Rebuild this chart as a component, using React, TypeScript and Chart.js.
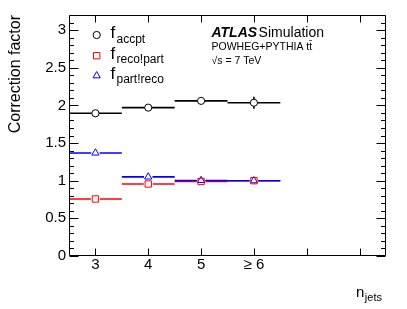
import React, { useEffect, useRef } from 'react';
import { Chart, registerables } from 'chart.js';

Chart.register(...registerables);

// ---- data ----
const nJets = [3, 4, 5, 6];
const binHalfWidth = [0.5, 0.5, 0.5, 0.5];
const fAccpt = [1.895, 1.97, 2.06, 2.035];
const fAccptErr = [0.01, 0.01, 0.015, 0.08];
const fRecoPart = [0.757, 0.956, 0.99, 1.0];
const fRecoPartErr = [0.01, 0.01, 0.01, 0.01];
const fPartReco = [1.368, 1.05, 1.003, 1.0];
const fPartRecoErr = [0.01, 0.01, 0.01, 0.01];
const xTickValues = [3, 4, 5, 6, 7, 8];
const xTickLabels = ['3', '4', '5', '\u2265 6', '', ''];
const yTickValues = [0, 0.5, 1, 1.5, 2, 2.5, 3];
const yTickLabels = ['0', '0.5', '1', '1.5', '2', '2.5', '3'];
const legendLabels = [
  { main: 'f', sub: 'accpt' },
  { main: 'f', sub: 'reco!part' },
  { main: 'f', sub: 'part!reco' },
];
const yTitle = 'Correction factor';
const xTitleMain = 'n';
const xTitleSub = 'jets';
const atlasBold = 'ATLAS';
const atlasRest = 'Simulation';
const infoLine1 = 'POWHEG+PYTHIA tt\u0304';
const infoLine2 = '\u221As = 7 TeV';

const FONT = '"Liberation Sans", Arial, Helvetica, sans-serif';

type Marker = 'circle' | 'rect' | 'triangle';

function drawMarker(ctx: CanvasRenderingContext2D, style: Marker, x: number, y: number, r: number, color: string) {
  ctx.save();
  ctx.strokeStyle = color;
  ctx.lineWidth = 1;
  ctx.beginPath();
  if (style === 'circle') {
    ctx.arc(x, y, r, 0, Math.PI * 2);
  } else if (style === 'rect') {
    const s = Math.SQRT1_2 * r;
    ctx.rect(x - s, y - s, 2 * s, 2 * s);
  } else {
    const h = r * 1.5;
    const w = (r * Math.sqrt(3)) / 2;
    ctx.moveTo(x - w, y + h / 3);
    ctx.lineTo(x + w, y + h / 3);
    ctx.lineTo(x, y - (2 * h) / 3);
    ctx.closePath();
  }
  ctx.stroke();
  ctx.restore();
}

const atlasPlugin = {
  id: 'atlasStyle',
  beforeDatasetsDraw(chart: any) {
    const { ctx, scales } = chart;
    const xs = scales.x;
    const ys = scales.y;
    chart.data.datasets.forEach((ds: any) => {
      ctx.save();
      ctx.strokeStyle = ds.borderColor;
      ctx.lineWidth = 1.6;
      ctx.beginPath();
      ds.data.forEach((p: any, j: number) => {
        const px = xs.getPixelForValue(p.x);
        const py = ys.getPixelForValue(p.y);
        const xl = xs.getPixelForValue(p.x - ds.xErr[j]);
        const xr = xs.getPixelForValue(p.x + ds.xErr[j]);
        const yt = ys.getPixelForValue(p.y + ds.yErr[j]);
        const yb = ys.getPixelForValue(p.y - ds.yErr[j]);
        const g = ds.gap;
        ctx.moveTo(xl, py);
        ctx.lineTo(px - g, py);
        ctx.moveTo(px + g, py);
        ctx.lineTo(xr, py);
        if (py - yt > g) {
          ctx.moveTo(px, py - g);
          ctx.lineTo(px, yt);
        }
        if (yb - py > g) {
          ctx.moveTo(px, py + g);
          ctx.lineTo(px, yb);
        }
      });
      ctx.stroke();
      ctx.restore();
    });
  },
  afterDraw(chart: any) {
    const { ctx, chartArea: a, scales } = chart;
    const xs = scales.x;
    const ys = scales.y;
    const L = Math.round(a.left) + 0.5;
    const R = Math.round(a.right) - 0.5;
    const T = Math.round(a.top) + 0.5;
    const B = Math.round(a.bottom) - 0.5;
    ctx.save();
    ctx.strokeStyle = '#000';
    ctx.lineWidth = 1;
    ctx.beginPath();
    ctx.rect(L, T, R - L, B - T);
    xTickValues.forEach((v) => {
      const px = Math.round(xs.getPixelForValue(v)) + 0.5;
      ctx.moveTo(px, B);
      ctx.lineTo(px, B - 7);
      ctx.moveTo(px, T);
      ctx.lineTo(px, T + 7);
    });
    for (let k = 0; k <= 32; k++) {
      const v = k / 10;
      const py = Math.round(ys.getPixelForValue(v)) + 0.5;
      const len = k % 5 === 0 ? 9 : 4.5;
      ctx.moveTo(L, py);
      ctx.lineTo(L + len, py);
      ctx.moveTo(R, py);
      ctx.lineTo(R - len, py);
    }
    ctx.stroke();

    // legend
    const legX = 96.7;
    const legY = [35, 55.7, 75.7];
    chart.data.datasets.forEach((ds: any, i: number) => {
      drawMarker(ctx, ds.pointStyle, legX, legY[i], ds.pointRadius, ds.borderColor);
      ctx.fillStyle = '#000';
      ctx.textAlign = 'left';
      ctx.textBaseline = 'alphabetic';
      ctx.font = `17px ${FONT}`;
      ctx.fillText(legendLabels[i].main, 110.5, legY[i] + 3);
      ctx.font = `12px ${FONT}`;
      ctx.fillText(legendLabels[i].sub, 116.5, legY[i] + 7.5);
    });

    // ATLAS label
    ctx.fillStyle = '#000';
    ctx.font = `italic bold 14px ${FONT}`;
    ctx.fillText(atlasBold, 211.5, 36.7);
    const wBold = ctx.measureText(atlasBold).width;
    ctx.font = `14px ${FONT}`;
    ctx.fillText(atlasRest, 211.5 + wBold + 1.5, 36.7);
    ctx.font = `10.5px ${FONT}`;
    ctx.fillText(infoLine1, 211.5, 49.5);
    ctx.fillText(infoLine2, 211.5, 63.5);

    // x title
    ctx.font = `15px ${FONT}`;
    ctx.fillText(xTitleMain, 356, 297.3);
    const wn = ctx.measureText(xTitleMain).width;
    ctx.font = `11px ${FONT}`;
    ctx.fillText(xTitleSub, 356 + wn + 0.5, 301);
    ctx.restore();
  },
};

const makeSet = (vals: number[], errs: number[], color: string, style: Marker, r: number) => ({
  data: nJets.map((x, i) => ({ x, y: vals[i] })),
  xErr: binHalfWidth,
  yErr: errs,
  gap: r,
  borderColor: color,
  pointStyle: style,
  pointRadius: r,
  pointHoverRadius: r,
  pointBorderColor: color,
  pointBackgroundColor: 'rgba(0,0,0,0)',
  pointBorderWidth: 1,
  showLine: false,
});

export default function App() {
  const ref = useRef<HTMLCanvasElement | null>(null);
  useEffect(() => {
    if (!ref.current) return;
    const chart = new Chart(ref.current, {
      type: 'scatter',
      data: {
        datasets: [
          makeSet(fAccpt, fAccptErr, '#000000', 'circle', 3.6),
          makeSet(fRecoPart, fRecoPartErr, '#ff0000', 'rect', 4.5),
          makeSet(fPartReco, fPartRecoErr, '#0000ff', 'triangle', 4.2),
        ] as any,
      },
      options: {
        animation: false,
        responsive: false,
        devicePixelRatio: 1,
        layout: { padding: { top: 15, right: 21, left: 0, bottom: 0 } },
        plugins: { legend: { display: false }, tooltip: { enabled: false } },
        scales: {
          x: {
            type: 'linear',
            min: 2.5,
            max: 8.5,
            grid: { display: false, drawTicks: false },
            border: { display: false },
            afterBuildTicks: (s: any) => {
              s.ticks = xTickValues.map((v) => ({ value: v }));
            },
            afterFit: (s: any) => {
              s.height = 53;
            },
            ticks: {
              padding: 0,
              maxRotation: 0,
              autoSkip: false,
              color: '#000',
              font: { family: FONT, size: 15 },
              callback: (v: any) => {
                const i = xTickValues.indexOf(Number(v));
                return i >= 0 ? xTickLabels[i] : '';
              },
            },
          },
          y: {
            type: 'linear',
            min: 0,
            max: 3.2,
            grid: { display: false, drawTicks: false },
            border: { display: false },
            afterBuildTicks: (s: any) => {
              s.ticks = yTickValues.map((v) => ({ value: v }));
            },
            afterFit: (s: any) => {
              s.width = 69;
            },
            title: {
              display: true,
              text: yTitle,
              align: 'end',
              color: '#000',
              font: { family: FONT, size: 16 },
              padding: { top: 6, bottom: 0 },
            },
            ticks: {
              padding: 3,
              color: '#000',
              autoSkip: false,
              font: { family: FONT, size: 15 },
              callback: (v: any) => {
                const i = yTickValues.indexOf(Number(v));
                return i >= 0 ? yTickLabels[i] : '';
              },
            },
          },
        },
      },
      plugins: [atlasPlugin as any],
    });
    return () => chart.destroy();
  }, []);
  return (
    <div style={{ position: 'fixed', left: 0, top: 0, width: 407, height: 309, background: '#fff' }}>
      <canvas ref={ref} width={407} height={309} />
    </div>
  );
}
